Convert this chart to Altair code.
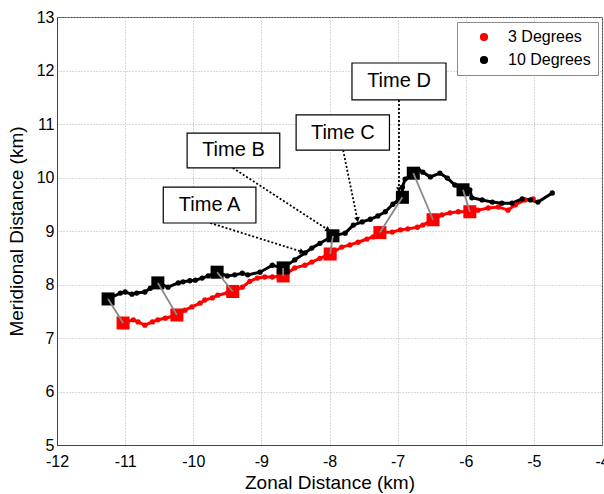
import math
import altair as alt
import pandas as pd

# ---- data ----
series_names = ["3 Degrees", "10 Degrees"]
series_colors = ["#ff0000", "#000000"]

red_x = [-11.03, -10.88, -10.81, -10.71, -10.60, -10.52, -10.41, -10.24, -10.12, -10.02,
         -9.90, -9.83, -9.72, -9.64, -9.50, -9.42, -9.28, -9.17, -9.06, -8.95,
         -8.84, -8.68, -8.51, -8.36, -8.26, -8.14, -7.99, -7.82, -7.70, -7.58,
         -7.45, -7.36, -7.26, -7.08, -6.96, -6.85, -6.71, -6.63, -6.48, -6.35,
         -6.23, -6.11, -5.94, -5.82, -5.67, -5.52, -5.38, -5.27, -5.13, -5.01]
red_y = [7.28, 7.34, 7.30, 7.24, 7.30, 7.34, 7.37, 7.43, 7.52, 7.58,
         7.65, 7.71, 7.75, 7.80, 7.84, 7.87, 7.95, 8.06, 8.12, 8.14,
         8.14, 8.16, 8.31, 8.36, 8.42, 8.49, 8.57, 8.70, 8.74, 8.79,
         8.85, 8.89, 8.97, 8.98, 9.02, 9.04, 9.07, 9.11, 9.21, 9.30,
         9.34, 9.36, 9.36, 9.39, 9.43, 9.45, 9.39, 9.49, 9.58, 9.60]

black_x = [-11.25, -11.07, -11.00, -10.90, -10.83, -10.71, -10.63, -10.52, -10.37, -10.22,
           -10.15, -10.05, -9.97, -9.87, -9.78, -9.65, -9.50, -9.39, -9.28, -9.20,
           -9.02, -8.84, -8.68, -8.51, -8.36, -8.26, -8.14, -7.95, -7.77, -7.65,
           -7.52, -7.40, -7.29, -7.18, -7.07, -6.93, -6.93, -6.89, -6.77, -6.70,
           -6.63, -6.52, -6.38, -6.27, -6.16, -6.04, -5.94, -5.91, -5.76, -5.61,
           -5.47, -5.32, -5.17, -5.05, -4.94, -4.73]
black_y = [7.73, 7.84, 7.86, 7.82, 7.84, 7.86, 7.93, 8.03, 7.95, 8.03,
           8.05, 8.07, 8.08, 8.12, 8.16, 8.23, 8.16, 8.18, 8.21, 8.18,
           8.23, 8.36, 8.31, 8.46, 8.59, 8.68, 8.77, 8.91, 8.96, 9.11,
           9.17, 9.22, 9.28, 9.36, 9.50, 9.63, 9.82, 9.97, 10.08, 10.15,
           10.10, 10.01, 10.08, 9.99, 9.86, 9.77, 9.77, 9.62, 9.58, 9.54,
           9.52, 9.52, 9.60, 9.58, 9.54, 9.71]

# matched time markers (squares), 10 degrees and 3 degrees
sq_black_x = [-11.25, -10.52, -9.65, -8.68, -7.95, -6.93, -6.77, -6.04]
sq_black_y = [7.73, 8.03, 8.23, 8.31, 8.91, 9.63, 10.08, 9.77]
sq_red_x = [-11.03, -10.24, -9.42, -8.68, -7.99, -7.26, -6.48, -5.94]
sq_red_y = [7.28, 7.43, 7.87, 8.16, 8.57, 8.97, 9.21, 9.36]

# annotation boxes
labels = ["Time A", "Time B", "Time C", "Time D"]
box_x1 = [-10.44, -10.09, -8.49, -7.67]
box_x2 = [-9.08, -8.73, -7.12, -6.29]
box_y1 = [9.15, 10.18, 10.51, 11.45]
box_y2 = [9.82, 10.83, 11.17, 12.14]
arrow_x1 = [-9.75, -9.42, -7.80, -6.98]
arrow_y1 = [9.15, 10.18, 10.51, 11.45]
arrow_x2 = [-8.40, -8.02, -7.59, -6.98]
arrow_y2 = [8.61, 9.02, 9.21, 9.77]

x_ticks = list(range(-12, -3))
y_ticks = list(range(5, 14))

# ---- layout ----
W, H = 545, 428
XD, YD = [-12, -4], [5, 13]
FONT = "Liberation Sans"

lines_df = pd.DataFrame(
    {"x": red_x + black_x, "y": red_y + black_y,
     "series": [series_names[0]] * len(red_x) + [series_names[1]] * len(black_x),
     "order": list(range(len(red_x))) + list(range(len(black_x)))})
sq_df = pd.DataFrame(
    {"x": sq_red_x + sq_black_x, "y": sq_red_y + sq_black_y,
     "series": [series_names[0]] * len(sq_red_x) + [series_names[1]] * len(sq_black_x),
     "z": [0] * len(sq_red_x) + [1] * len(sq_black_x)})
pair_df = pd.DataFrame({"x": sq_black_x, "y": sq_black_y, "x2": sq_red_x, "y2": sq_red_y})
box_df = pd.DataFrame({"label": labels, "x1": box_x1, "x2": box_x2, "y1": box_y1, "y2": box_y2})
box_df["xc"] = (box_df.x1 + box_df.x2) / 2
box_df["yc"] = (box_df.y1 + box_df.y2) / 2
arr_df = pd.DataFrame({"x": arrow_x1, "y": arrow_y1, "x2": arrow_x2, "y2": arrow_y2})
sx, sy = W / (XD[1] - XD[0]), H / (YD[1] - YD[0])
arr_df["angle"] = [
    math.degrees(math.atan2((b - a) * sx, (d - c) * sy)) % 360
    for a, b, c, d in zip(arrow_x1, arrow_x2, arrow_y1, arrow_y2)
]

xs = alt.Scale(domain=XD, nice=False, zero=False)
ys = alt.Scale(domain=YD, nice=False, zero=False)
color = alt.Color("series:N", scale=alt.Scale(domain=series_names, range=series_colors),
                  legend=alt.Legend(title=None, orient="none", legendX=400, legendY=5,
                                    symbolType="circle", symbolSize=45, symbolOffset=12,
                                    labelFontSize=16, labelFont=FONT, labelOffset=16,
                                    padding=7, rowPadding=7, strokeColor="#888",
                                    fillColor="white", labelColor="black"))
x_axis = alt.X("x:Q", scale=xs, axis=alt.Axis(
    values=x_ticks, title="Zonal Distance (km)", labelExpr="datum.value + ''",
    labelPadding=8, titlePadding=4, labelFlush=False))
y_axis = alt.Y("y:Q", scale=ys, axis=alt.Axis(
    values=y_ticks, title="Meridional Distance (km)", labelExpr="datum.value + ''",
    labelPadding=3, titlePadding=10))

base_lines = alt.Chart(lines_df)
line_layer = base_lines.mark_line(strokeWidth=3).encode(
    x=x_axis, y=y_axis, color=color, detail="series:N", order="order:Q")
point_layer = base_lines.mark_point(filled=True, size=28, opacity=1, shape="circle").encode(
    x="x:Q", y="y:Q", color=alt.Color("series:N", legend=None))

sq_layer = alt.Chart(sq_df).mark_point(shape="square", filled=True, size=170, opacity=1).encode(
    x="x:Q", y="y:Q", color=alt.Color("series:N", legend=None), order="z:Q")

pair_layer = alt.Chart(pair_df).mark_rule(color="#888888", strokeWidth=1.8).encode(
    x="x:Q", y="y:Q", x2="x2:Q", y2="y2:Q")

arrow_layer = alt.Chart(arr_df).mark_rule(color="black", strokeWidth=1.8, strokeDash=[2, 2]).encode(
    x="x:Q", y="y:Q", x2="x2:Q", y2="y2:Q")
head_layer = alt.Chart(arr_df).mark_point(shape="triangle-up", filled=True, size=35,
                                          color="black", opacity=1).encode(
    x="x2:Q", y="y2:Q", angle=alt.Angle("angle:Q", scale=None))

box_layer = alt.Chart(box_df).mark_rect(fill="white", stroke="black", strokeWidth=1.2).encode(
    x="x1:Q", x2="x2:Q", y="y1:Q", y2="y2:Q")
text_layer = alt.Chart(box_df).mark_text(fontSize=20, font=FONT, color="black").encode(
    x="xc:Q", y="yc:Q", text="label:N")

chart = alt.layer(
    line_layer, point_layer, sq_layer, pair_layer, arrow_layer, head_layer, box_layer, text_layer
).properties(
    width=W, height=H,
    background="white",
    autosize=alt.AutoSizeParams(type="none"),
    padding={"left": 57, "top": 17, "right": 2, "bottom": 49},
).configure_view(
    stroke="#444", strokeWidth=1
).configure_axis(
    grid=True, gridColor="#b0b0b0", gridDash=[1, 2], gridWidth=1,
    domainColor="#444", ticks=False, tickSize=0,
    labelFont=FONT, labelFontSize=16, labelColor="black",
    titleFont=FONT, titleFontSize=19, titleFontWeight="normal", titleColor="black",
)

chart.save("out.html", embed_options={"renderer": "svg", "actions": False})
